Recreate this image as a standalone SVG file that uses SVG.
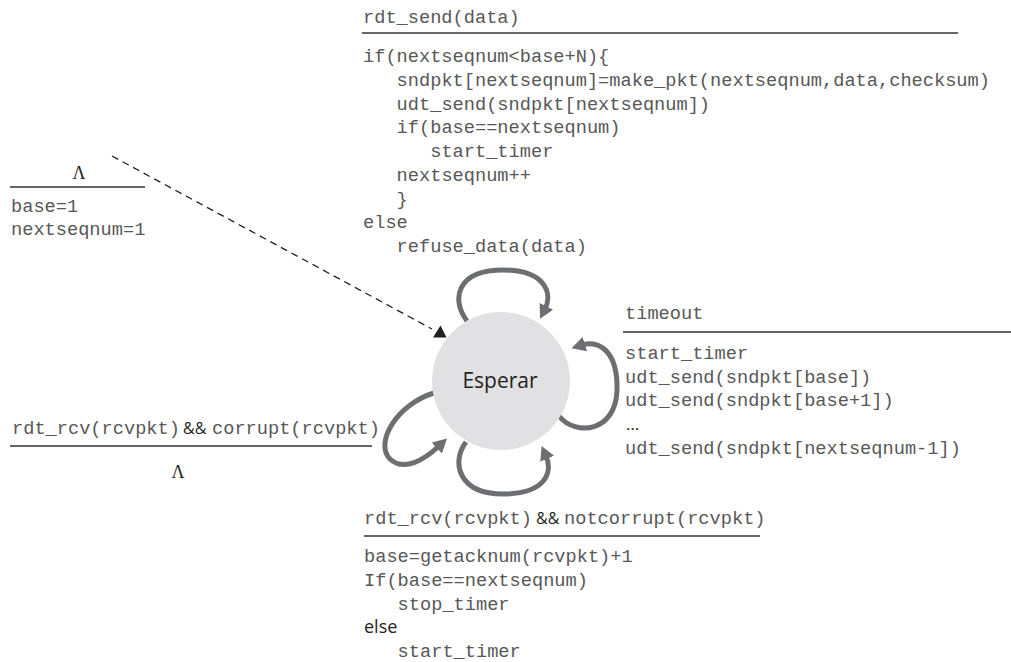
<svg xmlns="http://www.w3.org/2000/svg" width="1011" height="662" viewBox="0 0 1011 662">
<style>
.m{font-family:"Liberation Mono","DejaVu Sans Mono",monospace;font-size:18.67px;fill:#585858}
.s{font-family:"Open Sans","Noto Sans","Liberation Sans",sans-serif;fill:#231f20}
.g{font-family:"Liberation Serif","DejaVu Serif",serif;font-size:18px;fill:#231f20}
.rule{stroke:#333;stroke-width:1.6;fill:none}
.loop{stroke:#6d6e71;stroke-width:5;fill:none;marker-end:url(#ah)}
</style>
<defs>
<marker id="ah" markerUnits="userSpaceOnUse" viewBox="0 -8 14 16" refX="3" refY="0" markerWidth="14" markerHeight="16" orient="auto">
<path d="M0,-7.5 L14,0 L0,7.5 z" fill="#6d6e71"/>
</marker>
</defs>
<rect width="1011" height="662" fill="#fff"/>

<g id="connectors">
<line x1="112" y1="156" x2="432" y2="329" stroke="#231f20" stroke-width="1.3" stroke-dasharray="7,5"/>
<polygon points="433,337.5 446.5,337.5 440.5,325.5" fill="#231f20"/>
<path class="loop" d="M467,321 C451,300 456,270 503,270 C545,270 553,293 545,309"/>
<path class="loop" d="M559,416 C576,437 616,432 617,390 C618,350 598,340 582,345"/>
<path class="loop" d="M466,442 C451,462 458,494 503,494 C546,494 553,472 546,456"/>
<path class="loop" d="M434,393 C397,404 374,443 390,459 C404,472 424,460 439,446"/>
</g>

<g id="esperar">
<circle cx="501" cy="381" r="69" fill="#e1e1e3"/>
<text class="s" x="500" y="388" font-size="21" text-anchor="middle">Esperar</text>
</g>

<g id="label-init">
<text class="g" x="79" y="179" text-anchor="middle">Λ</text>
<line class="rule" x1="10" y1="187" x2="145" y2="187"/>
<text class="m" x="11" y="212">base=1</text>
<text class="m" x="11" y="235">nextseqnum=1</text>
</g>

<g id="label-send">
<text class="m" x="363" y="23">rdt_send(data)</text>
<line class="rule" x1="362" y1="33" x2="958" y2="33"/>
<text class="m" x="363" y="62">if(nextseqnum&lt;base+N){</text>
<text class="m" x="396.6" y="86">sndpkt[nextseqnum]=make_pkt(nextseqnum,data,checksum)</text>
<text class="m" x="396.6" y="109.5">udt_send(sndpkt[nextseqnum])</text>
<text class="m" x="396.6" y="133">if(base==nextseqnum)</text>
<text class="m" x="430.2" y="157">start_timer</text>
<text class="m" x="396.6" y="181">nextseqnum++</text>
<text class="m" x="396.6" y="204.5">}</text>
<text class="m" x="363" y="228">else</text>
<text class="m" x="396.6" y="252">refuse_data(data)</text>
</g>

<g id="label-timeout">
<text class="m" x="625" y="319">timeout</text>
<line class="rule" x1="623" y1="332" x2="1011" y2="332"/>
<text class="m" x="625" y="359">start_timer</text>
<text class="m" x="625" y="382.5">udt_send(sndpkt[base])</text>
<text class="m" x="625" y="406">udt_send(sndpkt[base+1])</text>
<text class="s" x="626" y="430" font-size="17">…</text>
<text class="m" x="625" y="454">udt_send(sndpkt[nextseqnum-1])</text>
</g>

<g id="label-corrupt">
<text class="m" x="12" y="434">rdt_rcv(rcvpkt)</text>
<text class="s" x="183" y="434" font-size="16">&amp;&amp;</text>
<text class="m" x="212" y="434">corrupt(rcvpkt)</text>
<line class="rule" x1="10" y1="446" x2="372" y2="446"/>
<text class="g" x="178" y="478" text-anchor="middle">Λ</text>
</g>

<g id="label-ack">
<text class="m" x="364" y="524">rdt_rcv(rcvpkt)</text>
<text class="s" x="536" y="524" font-size="16">&amp;&amp;</text>
<text class="m" x="564" y="524">notcorrupt(rcvpkt)</text>
<line class="rule" x1="364" y1="536" x2="760" y2="536"/>
<text class="m" x="364" y="562">base=getacknum(rcvpkt)+1</text>
<text class="m" x="364" y="586">If(base==nextseqnum)</text>
<text class="m" x="397.6" y="609.5">stop_timer</text>
<text class="s" x="364" y="633" font-size="18">else</text>
<text class="m" x="397.6" y="657">start_timer</text>
</g>
</svg>
